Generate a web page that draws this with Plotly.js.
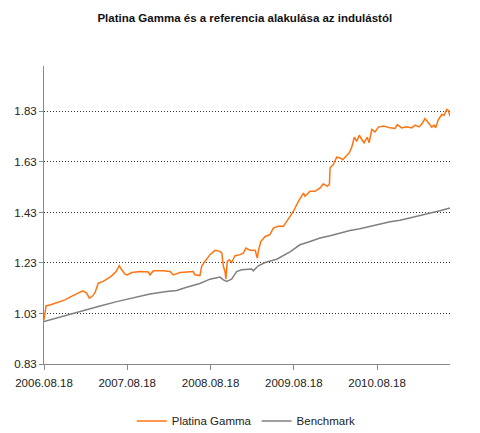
<!DOCTYPE html>
<html>
<head>
<meta charset="utf-8">
<script src="https://cdn.plot.ly/plotly-3.0.1.min.js"></script>
<style>html,body{margin:0;padding:0;background:#fff;}#chart{width:480px;height:433px;}</style>
</head>
<body>
<div id="chart"></div>
<script>
const gammaDates = ["2006-08-18","2006-08-27","2006-09-13","2006-10-05","2006-10-27","2006-11-18","2006-12-10","2007-01-01","2007-01-23","2007-02-04","2007-02-21","2007-03-05","2007-03-20","2007-03-30","2007-04-13","2007-05-05","2007-05-27","2007-06-11","2007-06-30","2007-07-14","2007-07-25","2007-08-08","2007-08-18","2007-09-07","2007-10-13","2007-11-19","2007-11-26","2007-12-11","2008-01-23","2008-02-22","2008-03-07","2008-04-06","2008-06-03","2008-06-10","2008-07-02","2008-07-10","2008-07-24","2008-08-15","2008-09-06","2008-09-28","2008-10-06","2008-10-13","2008-10-20","2008-10-24","2008-10-30","2008-11-08","2008-11-18","2008-12-03","2008-12-25","2009-01-08","2009-01-20","2009-02-07","2009-03-01","2009-03-11","2009-03-15","2009-03-26","2009-04-14","2009-05-05","2009-05-20","2009-06-11","2009-07-03","2009-07-25","2009-08-16","2009-09-07","2009-09-29","2009-10-06","2009-10-28","2009-11-19","2009-12-11","2009-12-25","2010-01-12","2010-01-21","2010-01-24","2010-02-07","2010-02-22","2010-03-09","2010-03-20","2010-04-04","2010-04-18","2010-04-29","2010-05-10","2010-05-21","2010-06-01","2010-06-12","2010-06-22","2010-07-06","2010-07-14","2010-07-26","2010-08-09","2010-08-24","2010-09-15","2010-10-14","2010-11-05","2010-11-15","2010-12-04","2010-12-26","2011-01-17","2011-02-01","2011-02-19","2011-03-06","2011-03-16","2011-03-31","2011-04-15","2011-04-25","2011-05-02","2011-05-14","2011-05-29","2011-06-08","2011-06-20","2011-06-27","2011-07-04"];
const gammaValues = [1.005,1.060,1.064,1.071,1.077,1.084,1.095,1.104,1.113,1.120,1.111,1.091,1.100,1.113,1.150,1.157,1.170,1.179,1.196,1.219,1.203,1.186,1.183,1.192,1.196,1.194,1.183,1.199,1.199,1.196,1.183,1.192,1.196,1.183,1.180,1.219,1.236,1.263,1.280,1.276,1.269,1.216,1.196,1.166,1.236,1.243,1.232,1.259,1.263,1.269,1.289,1.280,1.280,1.249,1.276,1.315,1.335,1.342,1.368,1.375,1.375,1.404,1.434,1.474,1.507,1.494,1.514,1.514,1.527,1.543,1.534,1.540,1.607,1.620,1.649,1.646,1.639,1.653,1.666,1.688,1.728,1.712,1.736,1.719,1.706,1.728,1.706,1.759,1.749,1.768,1.772,1.765,1.763,1.778,1.765,1.769,1.765,1.776,1.769,1.785,1.802,1.785,1.768,1.776,1.765,1.798,1.818,1.815,1.838,1.834,1.811];

const benchDates = ["2006-08-18","2006-11-26","2007-02-06","2007-04-21","2007-07-03","2007-09-14","2007-11-26","2008-02-07","2008-03-22","2008-05-05","2008-07-02","2008-08-15","2008-09-28","2008-10-13","2008-10-27","2008-11-18","2008-12-10","2009-01-01","2009-02-14","2009-02-21","2009-03-15","2009-04-14","2009-06-04","2009-08-01","2009-09-14","2009-10-28","2009-12-11","2010-01-24","2010-03-09","2010-04-21","2010-06-04","2010-07-18","2010-08-31","2010-10-14","2010-11-27","2011-01-10","2011-02-23","2011-04-07","2011-05-21","2011-07-04"];
const benchValues = [0.998,1.024,1.041,1.060,1.077,1.091,1.107,1.117,1.121,1.134,1.149,1.166,1.174,1.163,1.157,1.166,1.196,1.203,1.206,1.199,1.219,1.232,1.245,1.274,1.302,1.315,1.329,1.338,1.349,1.359,1.366,1.375,1.386,1.393,1.399,1.408,1.417,1.428,1.437,1.448];

const xTickVals = ["2006-08-18","2007-08-18","2008-08-18","2009-08-18","2010-08-18"];
const yTickVals = [0.83,1.03,1.23,1.43,1.63,1.83];
const seriesNames = ["Platina Gamma","Benchmark"];
const titleText = "Platina Gamma és a referencia alakulása az indulástól";

const FONT = 'Arial, "Liberation Sans", sans-serif';

const traces = [
  {x: gammaDates, y: gammaValues, name: seriesNames[0], type: 'scatter', mode: 'lines',
   line: {color: '#FF7410', width: 1.5}},
  {x: benchDates, y: benchValues, name: seriesNames[1], type: 'scatter', mode: 'lines',
   line: {color: '#808080', width: 1.5}}
];

const layout = {
  width: 480, height: 433,
  margin: {l: 44, r: 30, t: 66, b: 69, autoexpand: false},
  paper_bgcolor: '#ffffff', plot_bgcolor: '#ffffff',
  font: {family: FONT, size: 11.5, color: '#222'},
  title: {text: '<b>' + titleText + '</b>', x: 0.51, xref: 'container', y: 0.958, yref: 'container',
          xanchor: 'center', yanchor: 'middle', font: {family: FONT, size: 11.5, color: '#111'}},
  showlegend: true,
  legend: {orientation: 'h', x: 0.513, xref: 'container', xanchor: 'center', y: 0.028, yref: 'container', yanchor: 'middle',
           font: {family: FONT, size: 11.5, color: '#222'}, itemwidth: 30, tracegroupgap: 0},
  xaxis: {type: 'date', range: ['2006-08-18', '2011-07-04'], tickvals: xTickVals, tickformat: '%Y.%m.%d',
          showgrid: false, zeroline: false, showline: true, linecolor: '#888', linewidth: 1,
          ticks: 'outside', ticklen: 5, tickcolor: '#888', ticklabelstandoff: 3,
          tickfont: {family: FONT, size: 11.5, color: '#222'}},
  yaxis: {range: [0.83, 2.01], tickvals: yTickVals, tickformat: '.2f',
          showgrid: true, gridcolor: '#333', griddash: '1px,2px', gridwidth: 1, zeroline: false,
          showline: true, linecolor: '#888', linewidth: 1,
          ticks: 'outside', ticklen: 4, tickcolor: '#888', tickfont: {family: FONT, size: 11.5, color: '#222'}}
};

Plotly.newPlot('chart', traces, layout, {displayModeBar: false, staticPlot: true});
</script>
</body>
</html>
